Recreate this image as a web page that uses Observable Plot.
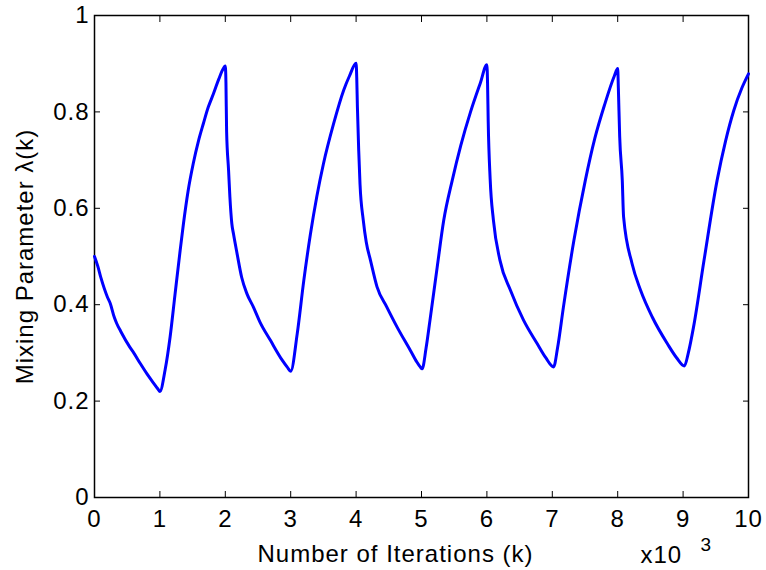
<!DOCTYPE html>
<html>
<head>
<meta charset="utf-8">
<script src="https://cdn.jsdelivr.net/npm/d3@7"></script>
<script src="https://cdn.jsdelivr.net/npm/@observablehq/plot@0.6"></script>
<style>
  html, body { margin: 0; padding: 0; background: #fff; }
  #chart { width: 766px; height: 570px; }
  #chart svg text { letter-spacing: 1px; }
</style>
</head>
<body>
<div id="chart"></div>
<script>
// Tick values
const xTicks = [0, 1, 2, 3, 4, 5, 6, 7, 8, 9, 10];
const yTicks = [0, 0.2, 0.4, 0.6, 0.8, 1];

// Labels
const xLabel = "Number of Iterations (k)";
const yLabel = "Mixing Parameter λ(k)";
const xScaleLabel = "x10";
const xScaleExp = "3";

// Series: iteration (thousands) and mixing parameter λ(k)
const iterK = [
  0.00, 0.05, 0.10, 0.20, 0.24, 0.30, 0.34, 0.40, 0.54, 0.60, 0.70, 0.80, 0.90, 0.97, 1.00,
  1.08, 1.156, 1.23, 1.31, 1.36, 1.43, 1.51, 1.59, 1.665, 1.74, 1.82, 1.90, 1.97, 2.00,
  2.01, 2.02, 2.05, 2.07, 2.10, 2.125, 2.18, 2.25, 2.33, 2.43, 2.53, 2.69, 2.87, 2.95, 3.00,
  3.10, 3.20, 3.30, 3.40, 3.50, 3.655, 3.81, 3.90, 4.00,
  4.01, 4.02, 4.04, 4.06, 4.11, 4.155, 4.22, 4.32, 4.47, 4.625, 4.83, 4.92, 4.98, 5.01,
  5.07, 5.13, 5.24, 5.34, 5.47, 5.60, 5.75, 5.90, 6.00,
  6.01, 6.02, 6.05, 6.10, 6.20, 6.36, 6.56, 6.77, 6.90, 7.02,
  7.08, 7.17, 7.33, 7.505, 7.65, 7.80, 7.95, 8.00,
  8.01, 8.03, 8.07, 8.09, 8.22, 8.35, 8.53, 8.76, 8.90, 9.02,
  9.08, 9.16, 9.32, 9.52, 9.65, 9.775, 9.90, 10.00
];
const lambda = [
  0.500, 0.480, 0.455, 0.415, 0.403, 0.375, 0.361, 0.345, 0.312, 0.300, 0.278, 0.257, 0.238, 0.225, 0.220,
  0.265, 0.333, 0.420, 0.513, 0.568, 0.635, 0.693, 0.740, 0.776, 0.810, 0.838, 0.868, 0.890, 0.895,
  0.860, 0.760, 0.679, 0.624, 0.568, 0.547, 0.506, 0.457, 0.423, 0.395, 0.364, 0.326, 0.285, 0.270, 0.262,
  0.340, 0.450, 0.545, 0.625, 0.692, 0.775, 0.845, 0.875, 0.901,
  0.870, 0.810, 0.720, 0.650, 0.575, 0.530, 0.492, 0.437, 0.395, 0.354, 0.305, 0.283, 0.271, 0.267,
  0.310, 0.368, 0.478, 0.575, 0.658, 0.730, 0.800, 0.860, 0.898,
  0.860, 0.780, 0.660, 0.575, 0.492, 0.430, 0.368, 0.319, 0.290, 0.271,
  0.310, 0.395, 0.533, 0.658, 0.745, 0.815, 0.875, 0.890,
  0.850, 0.750, 0.658, 0.582, 0.485, 0.430, 0.374, 0.319, 0.290, 0.273,
  0.300, 0.354, 0.492, 0.658, 0.740, 0.803, 0.850, 0.879
];

const series = iterK.map((k, i) => ({k, v: lambda[i]}));

const FONT = "'Liberation Sans', Arial, Helvetica, sans-serif";
const TICK = 6;
const FS = 24;
const noText = () => null;

const chart = Plot.plot({
  width: 766,
  height: 570,
  marginLeft: 94,
  marginRight: 18,
  marginTop: 15,
  marginBottom: 73,
  style: {fontFamily: FONT, background: "#fff", color: "#000", overflow: "visible"},
  x: {domain: [0, 10]},
  y: {domain: [0, 1]},
  marks: [
    // inward ticks on all four sides
    Plot.axisX({anchor: "bottom", ticks: xTicks, tickSize: TICK, dy: -TICK, tickFormat: noText, label: null, stroke: "#000"}),
    Plot.axisX({anchor: "top", ticks: xTicks, tickSize: TICK, dy: TICK, tickFormat: noText, label: null, stroke: "#000"}),
    Plot.axisY({anchor: "left", ticks: yTicks, tickSize: TICK, dx: TICK, tickFormat: noText, label: null, stroke: "#000"}),
    Plot.axisY({anchor: "right", ticks: yTicks, tickSize: TICK, dx: -TICK, tickFormat: noText, label: null, stroke: "#000"}),
    // tick labels
    Plot.axisX({anchor: "bottom", ticks: xTicks, tickSize: 0, tickPadding: 12, fontSize: FS, label: null, tickFormat: d => String(d)}),
    Plot.axisY({anchor: "left", ticks: yTicks, tickSize: 0, tickPadding: 5, fontSize: FS, label: null, tickFormat: d => String(+d.toFixed(1))}),
    Plot.frame({stroke: "#000", strokeWidth: 1.5}),
    Plot.line(series, {x: "k", y: "v", stroke: "#0000ff", strokeWidth: 3, curve: "monotone-x"}),
    // axis labels
    Plot.text([xLabel], {text: d => d, frameAnchor: "bottom", lineAnchor: "bottom", textAnchor: "middle", dx: -26, dy: 64, fontSize: FS, fill: "#000"}),
    Plot.text([xScaleLabel], {text: d => d, frameAnchor: "bottom", lineAnchor: "bottom", textAnchor: "start", dx: 219, dy: 65, fontSize: FS, fill: "#000"}),
    Plot.text([xScaleExp], {text: d => d, frameAnchor: "bottom", lineAnchor: "bottom", textAnchor: "start", dx: 279, dy: 53, fontSize: 19, fill: "#000"}),
    Plot.text([yLabel], {text: d => d, frameAnchor: "left", lineAnchor: "bottom", textAnchor: "middle", rotate: -90, dx: -62, fontSize: FS, fill: "#000"})
  ]
});
document.getElementById("chart").appendChild(chart);
</script>
</body>
</html>
